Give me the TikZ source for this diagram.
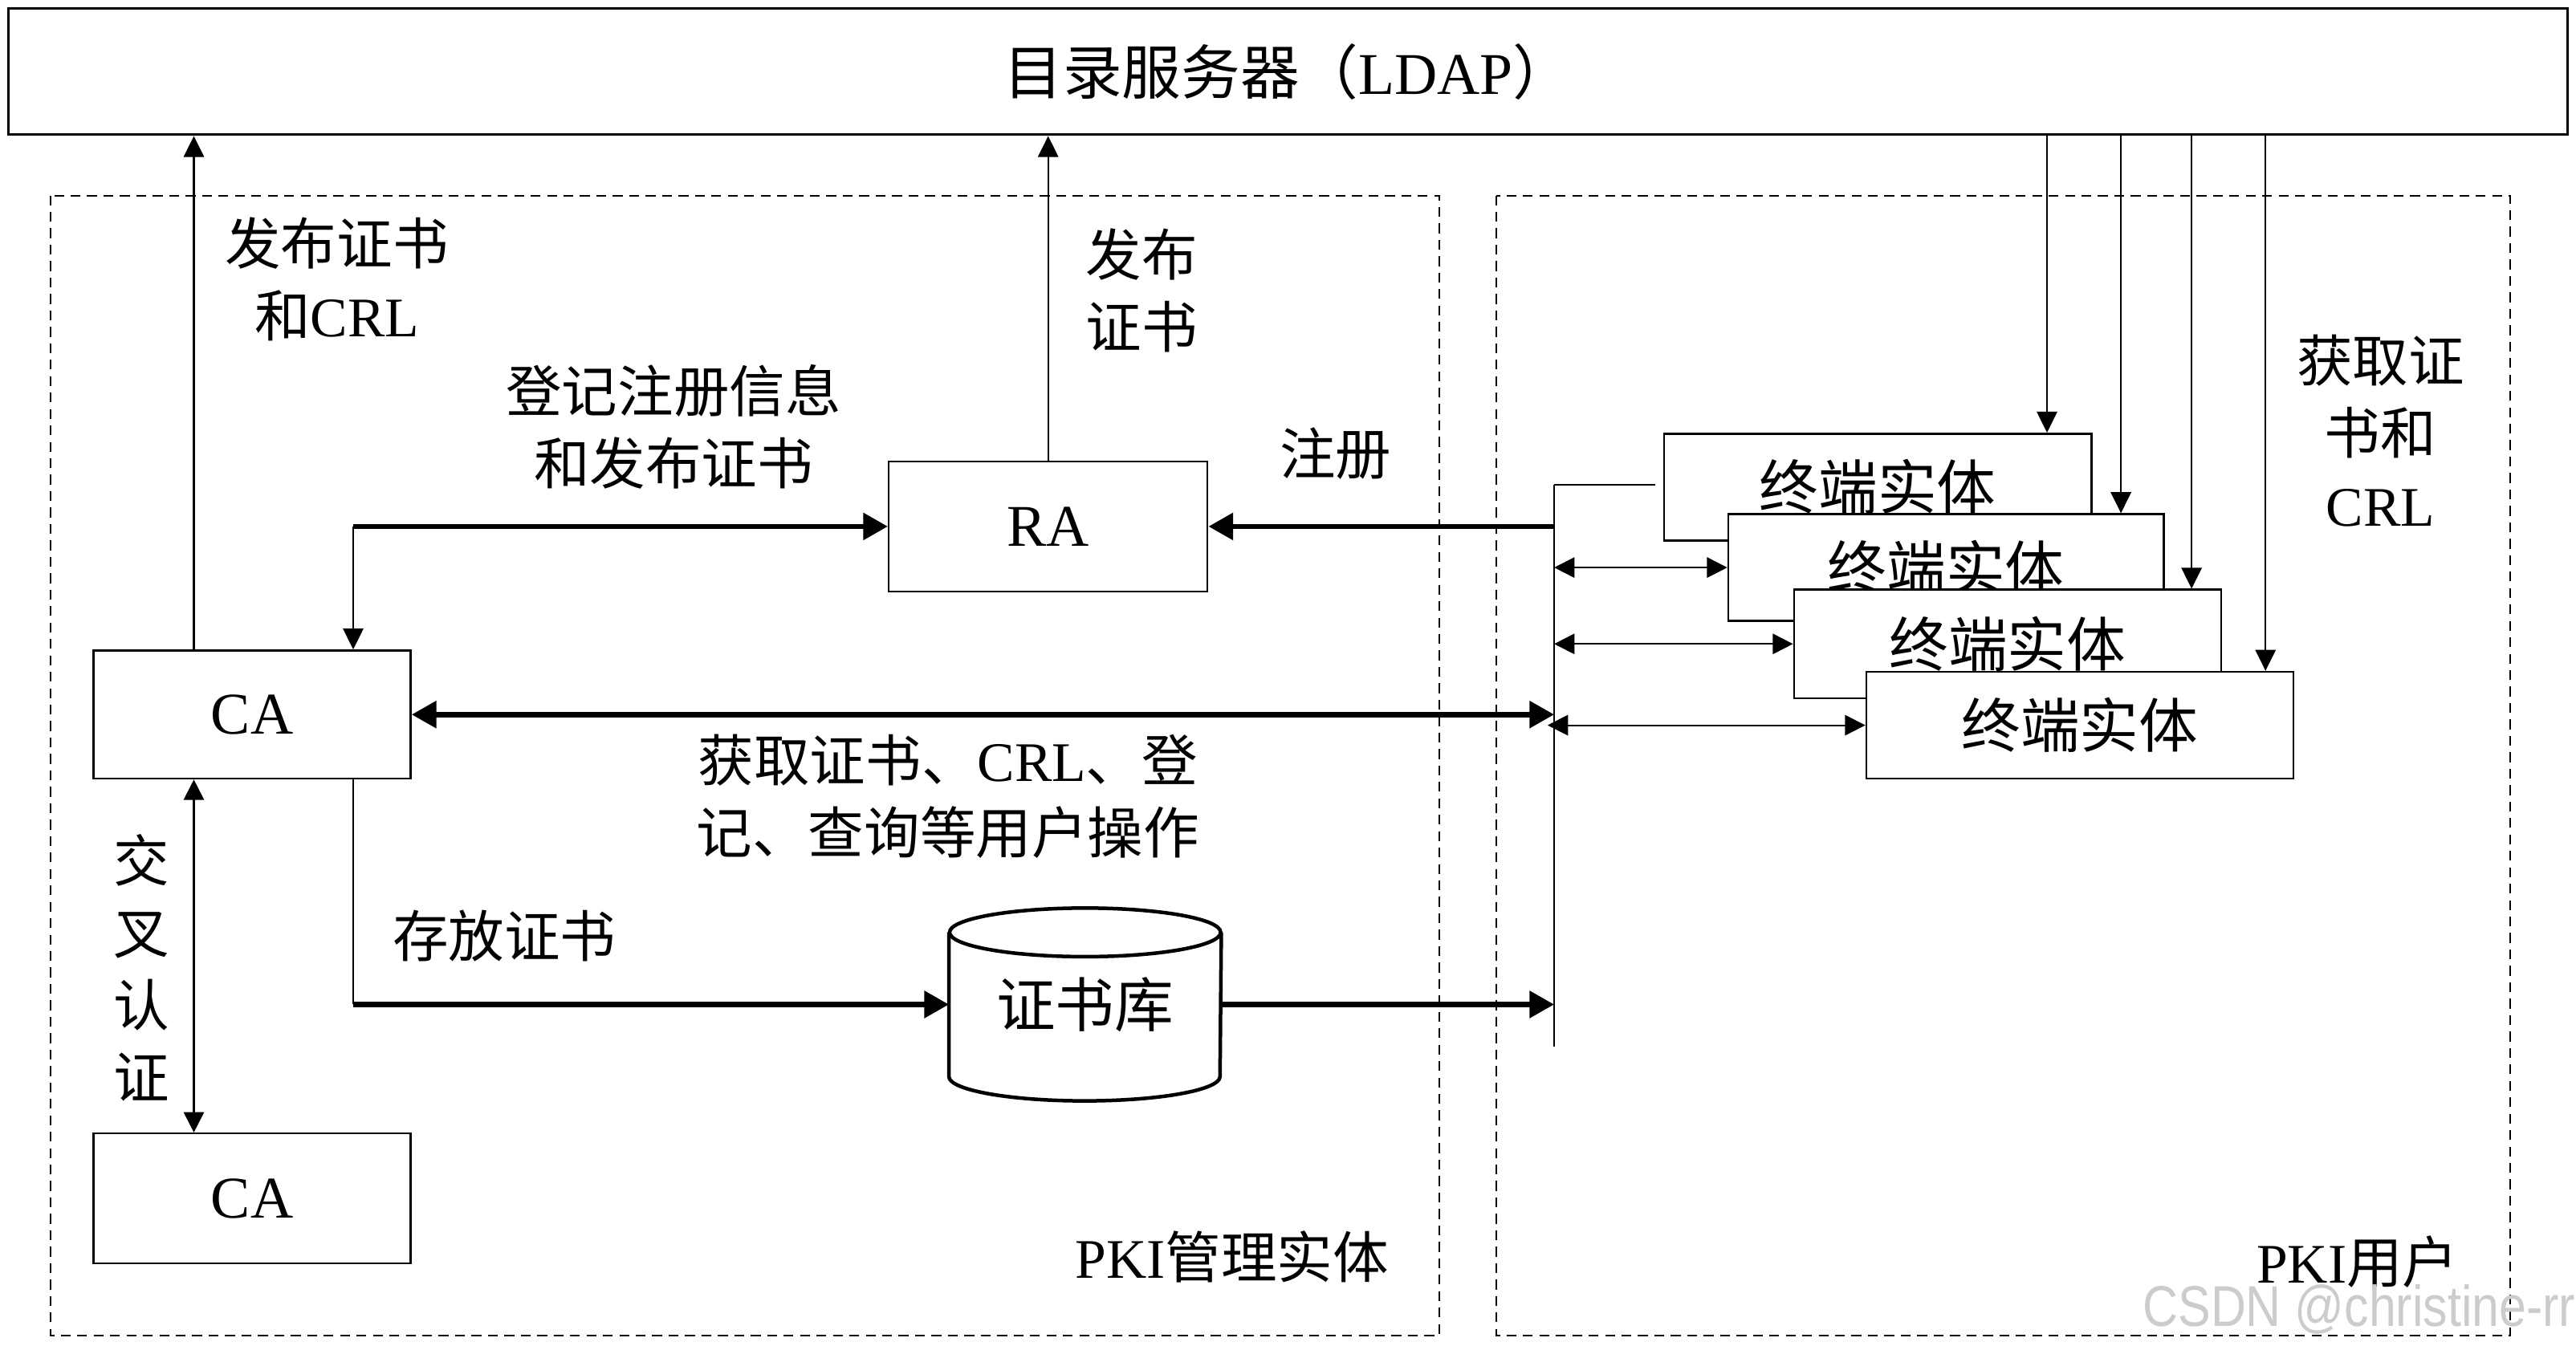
\documentclass[tikz,border=0pt]{standalone}
\usepackage{fontspec}
\setmainfont{Noto Sans CJK SC}
\newfontfamily\latinf{Liberation Serif}
\newfontfamily\wmfont{Liberation Sans}
\usetikzlibrary{arrows.meta,calc}
\newcommand\ltn[1]{{\latinf #1}}
\tikzset{
  box/.style={draw, line width=0.6pt, fill=white, inner sep=0pt},
  lbl/.style={inner sep=0pt, align=center, font=\fontsize{17pt}{22pt}\selectfont},
  thinln/.style={line width=0.5pt},
  thickln/.style={line width=1.6pt},
  thinarr/.style={thinln, -{Triangle[length=6.4pt,width=6.2pt]}},
  thindbl/.style={thinln, {Triangle[length=6.2pt,width=6.2pt]}-{Triangle[length=6.2pt,width=6.2pt]}},
  thickarr/.style={thickln, -{Triangle[length=7.5pt,width=8pt]}},
  thickdbl/.style={thickln, {Triangle[length=7.5pt,width=8pt]}-{Triangle[length=7.5pt,width=8pt]}},
  grp/.style={draw, dashed, dash pattern=on 3pt off 2pt, line width=0.5pt},
}
\begin{document}
\begin{tikzpicture}[x=0.5pt,y=-0.5pt]
\useasboundingbox (0,0) rectangle (1568,819);
\fill[white] (0,0) rectangle (1568,819);

% group boxes
\draw[grp] (31,119) rectangle (876,813);
\draw[grp] (911,119) rectangle (1528,813);

% LDAP
\node[box, line width=0.8pt, minimum width=779pt, minimum height=38.5pt,
      font=\fontsize{18pt}{22pt}\selectfont] (ldap) at (784,43.5) {目录服务器（\ltn{LDAP}）};

% main nodes
\node[box, minimum width=97pt, minimum height=39.5pt, font=\fontsize{18pt}{22pt}\latinf] (ra) at (638,320.5) {RA};
\node[box, minimum width=96.5pt, minimum height=39pt, font=\fontsize{18pt}{22pt}\latinf] (ca1) at (153.5,435) {CA};
\node[box, minimum width=96.5pt, minimum height=39.5pt, font=\fontsize{18pt}{22pt}\latinf] (ca2) at (153.5,729.5) {CA};

% end entities
\tikzset{ee/.style={box, minimum width=130pt, minimum height=32.5pt, font=\fontsize{18pt}{22pt}\selectfont}}
\node[ee] (e1) at (1143,296.5) {终端实体};
\node[ee, minimum width=132.5pt] (e2) at (1184.5,345.5) {终端实体};
\node[ee, minimum height=33pt] (e3) at (1222,392) {终端实体};
\node[ee] (e4) at (1266,441.5) {终端实体};

% certificate repository
\node[inner sep=0pt, minimum width=82.5pt, minimum height=58.5pt, font=\fontsize{18pt}{22pt}\selectfont] (db) at (660.5,611.5) {证书库};
\draw[line width=1.1pt] ($(db.north)+(0,15)$) ellipse [x radius=41.25pt, y radius=7.4pt];
\draw[line width=1.1pt] ($(db.north west)+(0,15)$) -- ($(db.south west)+(0,-15)$)
   arc [start angle=180, end angle=360, x radius=41.25pt, y radius=7.4pt]
   -- ($(db.north east)+(0,15)$);

% helper coordinates
\coordinate (xa) at (118,0);
\coordinate (xb) at (215,0);
\coordinate (bustop) at (946,295);
\coordinate (busbot) at (946,637);
\coordinate (d1) at (1246,0);
\coordinate (d2) at (1291,0);
\coordinate (d3) at (1334,0);
\coordinate (d4) at (1379,0);

% CA -> LDAP, RA -> LDAP
\draw[thinarr] (xa |- ca1.north) -- (xa |- ldap.south);
\draw[thinarr] (ra.north) -- (ra.north |- ldap.south);

% CA <-> RA
\draw[thickarr] (xb |- ra.west) -- (ra.west);
\draw[thinarr] (xb |- ra.west) -- (xb |- ca1.north);

% bus
\draw[thinln] (bustop) -- (busbot);
\draw[thinln, shorten >=2.5pt] (bustop) -- (e1.west |- bustop);
\draw[thickarr] (bustop |- ra.east) -- (ra.east);
\draw[thickdbl] (ca1.east) -- (bustop |- ca1.east);
\draw[thindbl] (bustop |- e2.west) -- (e2.west);
\draw[thindbl] (bustop |- e3.west) -- (e3.west);
\draw[thindbl] ([xshift=-2pt]bustop |- e4.west) -- (e4.west);

% store certificates
\draw[thinln] (xb |- ca1.south) -- (xb |- db.west);
\draw[thickarr] (xb |- db.west) -- (db.west);
\draw[thickarr] (db.east) -- (bustop |- db.east);

% cross certification
\draw[thindbl] (xa |- ca1.south) -- (xa |- ca2.north);

% LDAP -> end entities
\draw[thinarr] (d1 |- ldap.south) -- (d1 |- e1.north);
\draw[thinarr] (d2 |- ldap.south) -- (d2 |- e2.north);
\draw[thinarr] (d3 |- ldap.south) -- (d3 |- e3.north);
\draw[thinarr] (d4 |- ldap.south) -- (d4 |- e4.north);

% labels
\node[lbl] (l1) at (205,170) {发布证书\\和\ltn{CRL}};
\node[lbl] (l2) at (695,177) {发布\\证书};
\node[lbl] (l3) at (410,260) {登记注册信息\\和发布证书};
\node[lbl] (l4) at (813,276) {注册};
\node[lbl] (l5) at (577,485) {获取证书、\ltn{CRL}、登\\记、查询等用户操作};
\node[lbl] (l6) at (307,570) {存放证书};
\node[lbl] (l7) at (86,589) {交\\叉\\认\\证};
\node[lbl] (l8) at (1449,262) {获取证\\书和\\\ltn{CRL}};
\node[lbl] (l9) at (750,765) {\ltn{PKI}管理实体};
\node[lbl] (l10) at (1435,768) {\ltn{PKI}用户};

% watermark
\node[inner sep=0pt, anchor=east, text=gray!40, font=\fontsize{17.5pt}{19pt}\wmfont] (wm) at (1568,797) {\scalebox{0.85}[1]{CSDN @christine-rr}};
\end{tikzpicture}
\end{document}
